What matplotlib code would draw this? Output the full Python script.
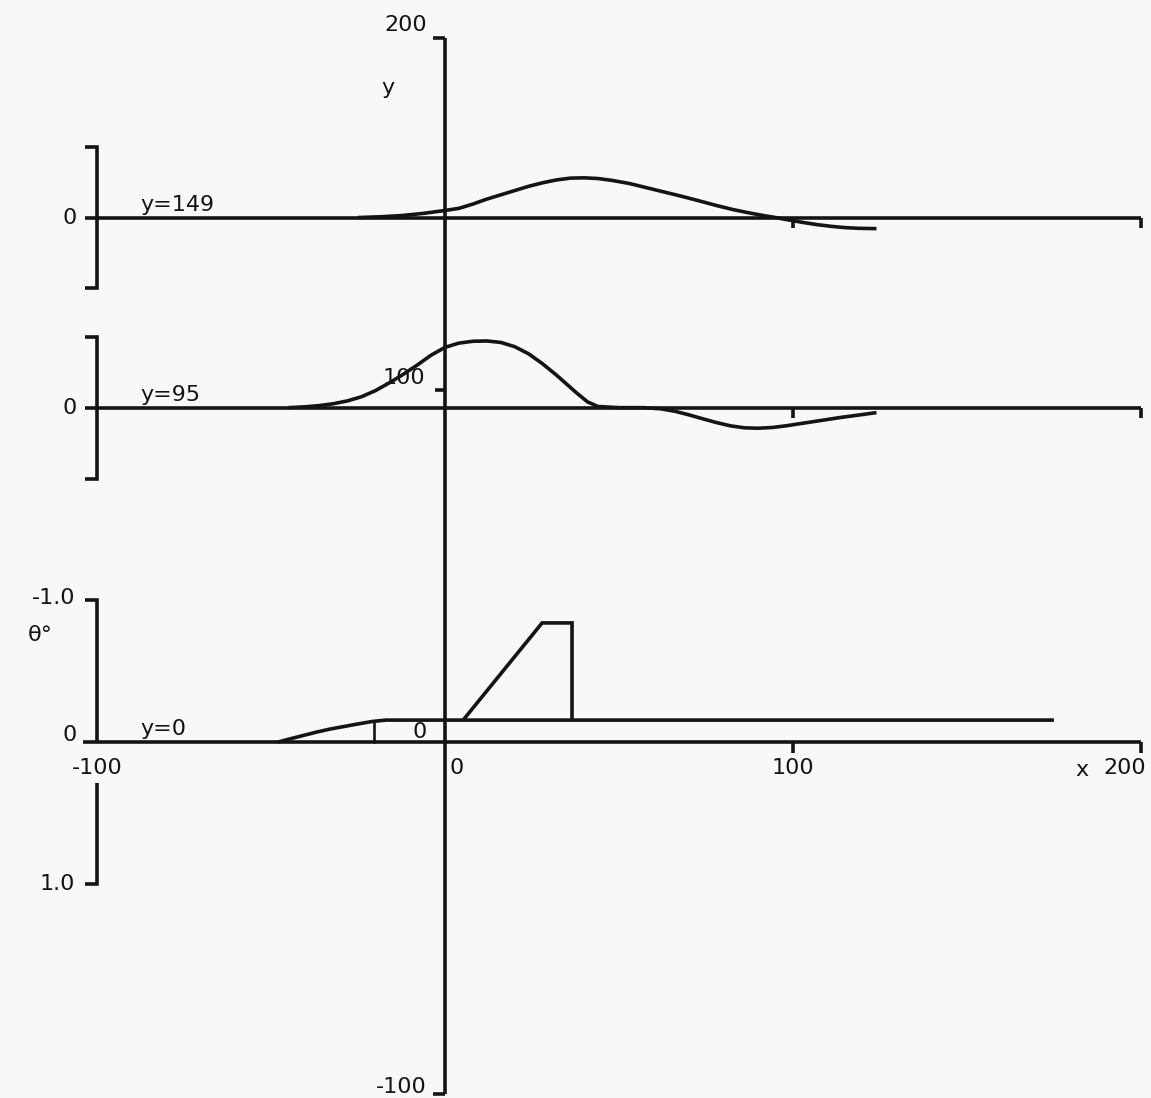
import matplotlib
matplotlib.use("Agg")
import numpy as np
import matplotlib.pyplot as plt

# station lines (y) and scale: 1 degree of theta = K units on the y axis
stations = [149, 95, 0]
K = 40.3

# theta traces, positive theta is drawn downward
x149 = [-25, -18, -12, -6, 0, 4, 8, 12, 16, 20, 24, 28, 32, 36, 40, 44, 48, 53, 58, 63,
        68, 73, 78, 83, 88, 92, 95, 99, 103, 107, 111, 115, 119, 124]
th149 = [0, -0.006, -0.015, -0.03, -0.05, -0.065, -0.095, -0.13, -0.16, -0.19, -0.22, -0.245,
         -0.265, -0.278, -0.28, -0.275, -0.262, -0.24, -0.21, -0.18, -0.15, -0.118, -0.085,
         -0.055, -0.03, -0.012, 0.0, 0.018, 0.035, 0.05, 0.062, 0.071, 0.076, 0.078]

x95 = [-45, -40, -36, -32, -28, -24, -20, -16, -12, -8, -4, 0, 4, 8, 12, 16, 20, 24, 28,
       32, 35, 38, 41, 44, 50, 57, 62, 66, 70, 74, 78, 82, 86, 90, 94, 98, 102, 106, 110,
       114, 118, 124]
th95 = [0, -0.006, -0.015, -0.028, -0.048, -0.077, -0.12, -0.175, -0.235, -0.3, -0.37,
        -0.425, -0.455, -0.468, -0.47, -0.46, -0.43, -0.38, -0.31, -0.23, -0.165, -0.1,
        -0.04, -0.008, 0, 0, 0.008, 0.025, 0.05, 0.078, 0.105, 0.128, 0.142, 0.145, 0.14,
        0.128, 0.113, 0.098, 0.083, 0.068, 0.055, 0.035]

x0 = [-48, -45, -41, -37, -33, -29, -25, -21, -17, 175]
th0 = [0, -0.02, -0.045, -0.07, -0.092, -0.11, -0.128, -0.145, -0.155, -0.155]

trap_x = [5.2, 27.9, 36.5, 36.5]
trap_th = [-0.155, -0.84, -0.84, -0.155]

mark_x = -20.4
mark_th = [0, -0.15]

xtick_vals = [-100, 0, 100, 200]
ytick_vals = [200, 100, -100]
theta_labels = ["-1.0", "0", "1.0"]
theta_vals = [-1.0, 0, 1.0]

ink = "#141414"
lw = 2.6
fs = 16
plt.rcParams['font.family'] = ['DejaVu Sans']

fig = plt.figure(figsize=(11.51, 10.98), dpi=100, facecolor="#f8f8f6")
ax = fig.add_axes([0, 0, 1, 1])
ax.set_facecolor("#f8f8f6")
ax.set_xlim(-127.9, 202.9)
ax.set_ylim(-101.1, 210.8)
ax.axis("off")

def ydat(base, th):
    return base - K * np.asarray(th)

kw = dict(color=ink, lw=lw, solid_capstyle="butt", solid_joinstyle="miter")

# vertical y axis with end serifs and 100 tick
ax.plot([0, 0], [ytick_vals[0], ytick_vals[-1]], **kw)
ax.plot([-3.5, 0], [200, 200], **kw)
ax.plot([-3.5, 0], [-100, -100], **kw)
ax.plot([-3, 0], [100, 100], **kw)

# baselines, x ticks
for base in stations:
    x_start = -104 if base == 0 else -103.4
    ax.plot([x_start, 200], [base, base], **kw)
    for xt in xtick_vals[2:]:
        ax.plot([xt, xt], [base, base - 3], **kw)

# brackets for upper stations (+-0.5 deg)
for base in stations[:2]:
    top, bot = ydat(base, -0.5), ydat(base, 0.5)
    ax.plot([-103.4, -100, -100, -103.4], [top, top, bot, bot], **kw)

# theta bracket (-1 .. 1 deg) with gap under the -100 label
t_top, t_bot = ydat(0, theta_vals[0]), ydat(0, theta_vals[2])
ax.plot([-103.4, -100, -100], [t_top, t_top, 0], **kw)
ax.plot([-100, -100, -103.4], [-11.6, t_bot, t_bot], **kw)

# traces
ax.plot(x149, ydat(149, th149), **kw)
ax.plot(x95, ydat(95, th95), **kw)
ax.plot(x0, ydat(0, th0), **kw)
ax.plot(trap_x, ydat(0, trap_th), **kw)
ax.plot([mark_x, mark_x], ydat(0, mark_th), color=ink, lw=1.9)

# text
t = dict(color=ink, fontsize=fs)
ax.text(-5.2, 203.7, str(ytick_vals[0]), ha="right", va="center", **t)
ax.text(-16.4, 185.8, "y", ha="center", va="center", **t)
ax.text(-5.7, 103.4, str(ytick_vals[1]), ha="right", va="center", **t)
ax.text(-5.2, -98, str(ytick_vals[2]), ha="right", va="center", **t)

ax.text(-100, -7.4, str(xtick_vals[0]), ha="center", va="center", **t)
ax.text(3.4, -7.4, str(xtick_vals[1]), ha="center", va="center", **t)
ax.text(100, -7.4, str(xtick_vals[2]), ha="center", va="center", **t)
ax.text(183, -8, "x", ha="center", va="center", **t)
ax.text(195.4, -7.4, str(xtick_vals[3]), ha="center", va="center", **t)

for base, lab in zip(stations, ["y=149", "y=95", "y=0"]):
    ax.text(-107.8, base + (2 if base == 0 else 0), "0", ha="center", va="center", **t)
    ax.text(-87.6, base + 0.8, lab, ha="left", va="bottom", **t)

ax.text(-106.3, ydat(0, theta_vals[0]) + 0.5, theta_labels[0], ha="right", va="center", **t)
ax.text(-106.3, ydat(0, theta_vals[2]), theta_labels[2], ha="right", va="center", **t)
ax.text(-116.4, 30.4, "θ°", ha="center", va="center", **t)
ax.text(-7.2, 2.8, "0", ha="center", va="center", **t)

fig.savefig("out.png", dpi=100, facecolor=fig.get_facecolor())
